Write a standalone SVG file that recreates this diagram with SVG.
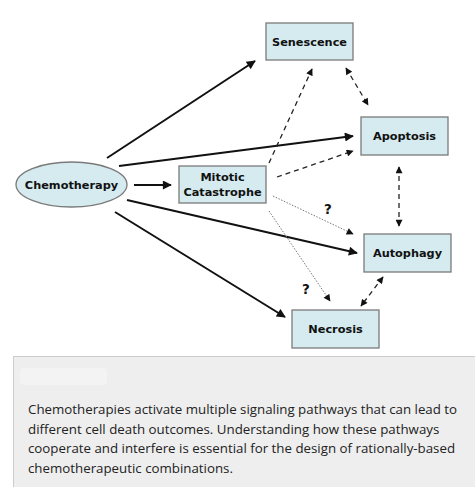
<svg xmlns="http://www.w3.org/2000/svg" width="475" height="487" viewBox="0 0 475 487">
<style>
.box{fill:#d5ebef;stroke:#7a7a7a;stroke-width:1.3}
.lbl{font-family:"DejaVu Sans",Verdana,sans-serif;font-weight:bold;font-size:11.3px;fill:#111;text-anchor:middle}
.solid{stroke:#111;stroke-width:2;fill:none;marker-end:url(#ah)}
.dash{stroke:#222;stroke-width:1.3;stroke-dasharray:5,4;fill:none;marker-end:url(#ahs)}
.dash2{stroke:#222;stroke-width:1.3;stroke-dasharray:5,4;fill:none;marker-end:url(#ahs);marker-start:url(#ahs)}
.dot{stroke:#777;stroke-width:1;stroke-dasharray:1.5,1.5;fill:none;marker-end:url(#ahs)}
.q{font-family:"DejaVu Sans",Verdana,sans-serif;font-weight:bold;font-size:13.5px;fill:#111;text-anchor:middle}
.cap{font-family:"Open Sans","DejaVu Sans",sans-serif;font-size:13.3px;fill:#222}
</style>
<defs>
<marker id="ah" viewBox="0 0 10 10" refX="9" refY="5" markerWidth="11" markerHeight="9" markerUnits="userSpaceOnUse" orient="auto-start-reverse"><path d="M0,0 L10,5 L0,10 z" fill="#111"/></marker>
<marker id="ahs" viewBox="0 0 10 10" refX="9" refY="5" markerWidth="8" markerHeight="7" markerUnits="userSpaceOnUse" orient="auto-start-reverse"><path d="M0,0 L10,5 L0,10 z" fill="#111"/></marker>
</defs>
<rect width="475" height="487" fill="#fff"/>
<g id="connectors">
<line class="solid" x1="107" y1="158" x2="255" y2="61"/>
<line class="solid" x1="119" y1="166" x2="353" y2="136"/>
<line class="solid" x1="134" y1="185" x2="171" y2="185"/>
<line class="solid" x1="127" y1="200" x2="357" y2="253"/>
<line class="solid" x1="115" y1="212" x2="285" y2="317"/>
<line class="dash" x1="269" y1="163" x2="312" y2="69"/>
<line class="dash" x1="277" y1="177" x2="353" y2="151"/>
<line class="dash2" x1="346" y1="68" x2="368" y2="105"/>
<line class="dash2" x1="399" y1="167" x2="399" y2="226"/>
<line class="dash2" x1="383" y1="277" x2="361" y2="306"/>
<line class="dot" x1="273" y1="196" x2="353" y2="234"/>
<line class="dot" x1="269" y1="211" x2="330" y2="301"/>
<text class="q" x="328" y="214">?</text>
<text class="q" x="306" y="294">?</text>
</g>
<g id="chemotherapy">
<ellipse class="box" cx="71.5" cy="184.5" rx="55.5" ry="22.5"/>
<text class="lbl" x="71.5" y="189">Chemotherapy</text>
</g>
<g id="mitotic">
<rect class="box" x="179" y="166" width="87" height="37"/>
<text class="lbl" x="222.5" y="181">Mitotic</text>
<text class="lbl" x="222.5" y="196">Catastrophe</text>
</g>
<g id="senescence">
<rect class="box" x="266" y="23" width="87" height="37"/>
<text class="lbl" x="309.5" y="45.5">Senescence</text>
</g>
<g id="apoptosis">
<rect class="box" x="361" y="117" width="87" height="38"/>
<text class="lbl" x="404.5" y="140">Apoptosis</text>
</g>
<g id="autophagy">
<rect class="box" x="364" y="234" width="87" height="38"/>
<text class="lbl" x="407.5" y="257">Autophagy</text>
</g>
<g id="necrosis">
<rect class="box" x="292" y="310" width="87" height="38"/>
<text class="lbl" x="335.5" y="333">Necrosis</text>
</g>
<g id="caption">
<rect x="13.5" y="356.5" width="470" height="140" fill="#eeeeee" stroke="#cccccc" stroke-width="1"/>
<rect x="20" y="368" width="87" height="17" rx="4" fill="#f3f3f3"/>
<text class="cap" x="28" y="414">Chemotherapies activate multiple signaling pathways that can lead to</text>
<text class="cap" x="28" y="433.5">different cell death outcomes. Understanding how these pathways</text>
<text class="cap" x="28" y="453">cooperate and interfere is essential for the design of rationally-based</text>
<text class="cap" x="28" y="472.5">chemotherapeutic combinations.</text>
</g>
</svg>
